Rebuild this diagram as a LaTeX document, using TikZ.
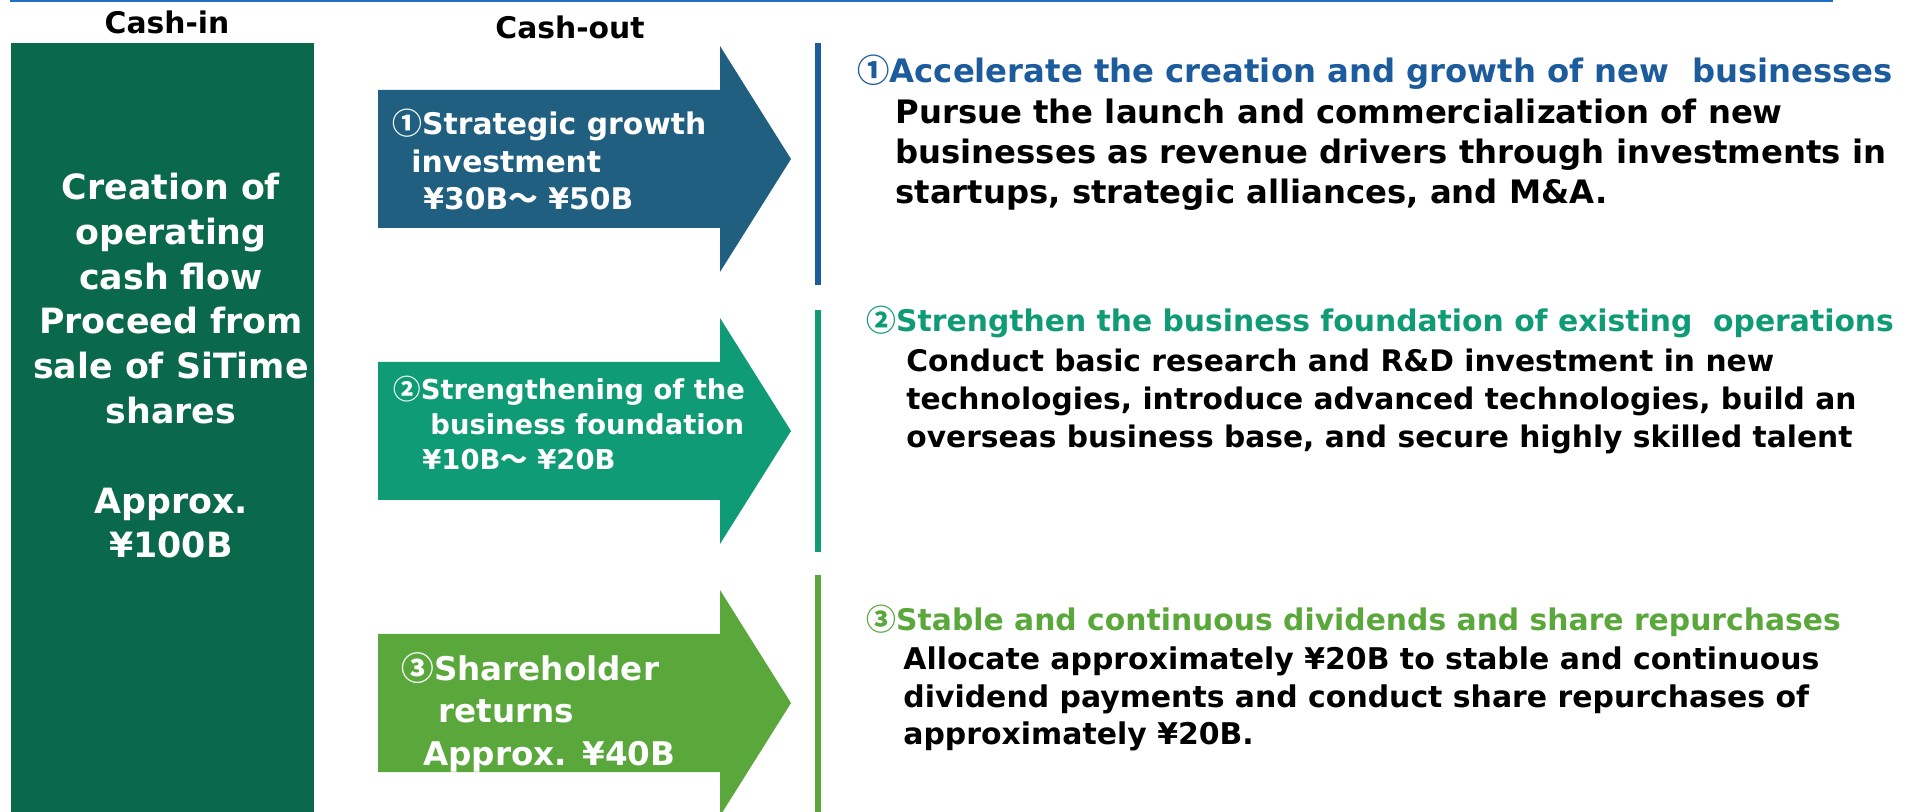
\documentclass[tikz,border=0pt]{standalone}
\usepackage{fontspec}
\setmainfont{DejaVu Sans}
\newfontfamily\cjk{Noto Sans CJK JP}
\usetikzlibrary{positioning}
\definecolor{ligne}{HTML}{1F6FC6}
\definecolor{cashgreen}{HTML}{0A684B}
\definecolor{stratblue}{HTML}{215F80}
\definecolor{baseteal}{HTML}{109B77}
\definecolor{retgreen}{HTML}{5AA73C}
\definecolor{headblue}{HTML}{1D5C9C}
\newcommand\fsz[2]{\bfseries\fontsize{#1}{#2}\selectfont}
\tikzset{
  txt/.style={inner sep=0pt, anchor=base west, align=left},
  head/.style={txt, text=#1},
  body/.style={txt, text=black},
  flow/.style={fill=#1},
  bar/.style={fill=#1},
}

\begin{document}
\begin{tikzpicture}[x=0.5pt, y=-0.5pt]
        \useasboundingbox[fill=white] (0,0) rectangle (1919,812);
        \draw[ligne, line width=0.8pt] (10,1) -- (1833,1);
        % cash-in column
        \node[txt, anchor=base, font=\fsz{14.9}{18}] (cashin) at (167,34) {Cash-in};
        \node[txt, anchor=base, font=\fsz{14.9}{18}] (cashout) at (570,39) {Cash-out};
        \fill[cashgreen] (11,43) rectangle (314,812);
        \node[txt, anchor=base, align=center, text=white, font=\fsz{17.4}{22.4}] (src) at (171,558)
          {Creation of\\operating\\cash flow\\Proceed from\\sale of SiTime\\shares\\[22.4pt]Approx.\\¥100B};
        % cash-out arrows
        \fill[flow=stratblue] (378,90) -- (720,90) -- (720,46) -- (791,159) -- (720,272) -- (720,228) -- (378,228) -- cycle;
        \fill[flow=baseteal] (378,362) -- (720,362) -- (720,318) -- (791,431) -- (720,544) -- (720,500) -- (378,500) -- cycle;
        \fill[flow=retgreen] (378,634) -- (720,634) -- (720,590) -- (791,703) -- (720,816) -- (720,772) -- (378,772) -- cycle;
        \node[txt, text=white, font=\fsz{14.9}{18.8}] (inv1) at (392,210)
          {{\cjk ①}Strategic growth\\\hspace*{9.5pt}investment\\\hspace*{15.5pt}¥30B{\cjk ～} ¥50B};
        \node[txt, text=white, font=\fsz{13.7}{17.5}] (inv2) at (393,470)
          {{\cjk ②}Strengthening of the\\\hspace*{18.5pt}business foundation\\\hspace*{14.5pt}¥10B{\cjk ～} ¥20B};
        \node[txt, text=white, font=\fsz{16.3}{21.2}] (inv3) at (401,765)
          {{\cjk ③}Shareholder\\\hspace*{18.5pt}returns\\\hspace*{11pt}Approx. ¥40B};
        % purposes
        \fill[bar=headblue] (815,43) rectangle (821,285);
        \fill[bar=baseteal] (815,310) rectangle (821,552);
        \fill[bar=retgreen] (815,575) rectangle (821,812);
        \node[head=headblue, font=\fsz{16.15}{20}] (h1) at (857,83) {{\cjk ①}Accelerate the creation and growth of new \ businesses};
        \node[body, font=\fsz{16.15}{20}] (b1) at (895,204)
          {Pursue the launch and commercialization of new\\businesses as revenue drivers through investments in\\startups, strategic alliances, and M\&A.};
        \node[head=baseteal, font=\fsz{14.9}{19}] (h2) at (866,332) {{\cjk ②}Strengthen the business foundation of existing \ operations};
        \node[body, font=\fsz{14.85}{19}] (b2) at (906,448)
          {Conduct basic research and R\&D investment in new\\technologies, introduce advanced technologies, build an\\overseas business base, and secure highly skilled talent};
        \node[head=retgreen, font=\fsz{14.9}{19}] (h3) at (866,631) {{\cjk ③}Stable and continuous dividends and share repurchases};
        \node[body, font=\fsz{14.95}{18.8}] (b3) at (903,745)
          {Allocate approximately ¥20B to stable and continuous\\dividend payments and conduct share repurchases of\\approximately ¥20B.};
      \end{tikzpicture}
\end{document}
